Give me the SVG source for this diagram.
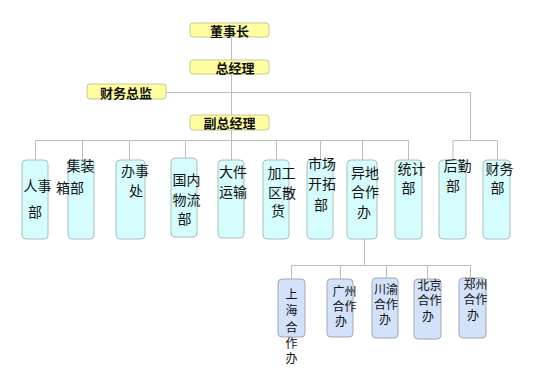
<svg xmlns="http://www.w3.org/2000/svg" width="552" height="378" viewBox="0 0 552 378">
<style>
text{font-family:"Noto Sans CJK SC","Liberation Sans",sans-serif;fill:#111;text-anchor:middle;dominant-baseline:central}
.top rect{fill:#FFFFA2;stroke:#C9C88C;stroke-width:1}
.top text{font-size:13px;font-weight:bold}
.dept rect{fill:#D5FDFD;stroke:#A9BDBD;stroke-width:1}
.dept text{font-size:14px}
.sub rect{fill:#D2E2FA;stroke:#A0A8B4;stroke-width:1}
.sub text{font-size:12px}
#connectors path{fill:none;stroke:#BDBDBD;stroke-width:1}
</style>
<rect x="0" y="0" width="552" height="378" fill="#FFFFFF"/>
<g id="connectors">
<path d="M231.5 37V140"/>
<path d="M166 92.5H470.5V140.5"/>
<path d="M453 140.5H497.5M453 140.5V160M497.5 140.5V160"/>
<path d="M35.5 140.5H408.5"/>
<path d="M35.5 140.5V160M82.5 140.5V160M129.5 140.5V160M185.5 140.5V158M231.5 140.5V160M276.5 140.5V160M320.5 140.5V160M362.5 140.5V160M408.5 140.5V160"/>
<path d="M364.5 239V265.5"/>
<path d="M291.5 265.5H470.5M291.5 265.5V279M340.5 265.5V279M386.5 265.5V278M427.5 265.5V279M470.5 265.5V278"/>
</g>
<g class="top">
<g id="n-dongshizhang"><rect x="190" y="23" width="79" height="14" rx="3"/><text x="229.5" y="30.5">董事长</text></g>
<g id="n-zongjingli"><rect x="190" y="60" width="79" height="14" rx="3"/><text x="235" y="67">总经理</text></g>
<g id="n-caiwuzongjian"><rect x="87" y="84" width="79" height="15" rx="3"/><text x="126" y="92">财务总监</text></g>
<g id="n-fuzongjingli"><rect x="190" y="115" width="79" height="15" rx="3"/><text x="229.5" y="122.5">副总经理</text></g>
</g>
<g class="dept">
<g id="n-renshi"><rect x="22" y="160" width="26" height="79" rx="4"/><text x="37.5" y="185">人事</text><text x="35" y="211">部</text></g>
<g id="n-jizhuangxiang"><rect x="68" y="160" width="26" height="79" rx="4"/><text x="80.5" y="165">集装</text><text x="70" y="187">箱部</text></g>
<g id="n-banshichu"><rect x="116" y="160" width="29" height="79" rx="4"/><text x="135" y="170">办事</text><text x="136" y="190">处</text></g>
<g id="n-guoneiwuliu"><rect x="171" y="158" width="26" height="79" rx="4"/><text x="186.5" y="179">国内</text><text x="186.5" y="199">物流</text><text x="184.5" y="218">部</text></g>
<g id="n-dajianyunshu"><rect x="218" y="160" width="26" height="78" rx="4"/><text x="233" y="171">大件</text><text x="233" y="191">运输</text></g>
<g id="n-jiagong"><rect x="263" y="160" width="26" height="79" rx="4"/><text x="281.5" y="171.5">加工</text><text x="282" y="191.5">区散</text><text x="278" y="210">货</text></g>
<g id="n-shichang"><rect x="307" y="160" width="26" height="79" rx="4"/><text x="322" y="163">市场</text><text x="322" y="183">开拓</text><text x="321" y="204">部</text></g>
<g id="n-yidi"><rect x="347" y="160" width="30" height="79" rx="4"/><text x="365" y="171.5">异地</text><text x="365" y="191">合作</text><text x="364" y="211">办</text></g>
<g id="n-tongji"><rect x="395" y="160" width="27" height="79" rx="4"/><text x="411.5" y="168">统计</text><text x="408.5" y="186.5">部</text></g>
<g id="n-houqin"><rect x="439" y="160" width="27" height="79" rx="4"/><text x="457.5" y="165">后勤</text><text x="453" y="185">部</text></g>
<g id="n-caiwu"><rect x="483" y="160" width="27" height="79" rx="4"/><text x="499.5" y="168">财务</text><text x="497.5" y="187">部</text></g>
</g>
<g class="sub">
<g id="n-shanghai"><rect x="278" y="279" width="27" height="58" rx="4"/><text x="291.5" y="293">上</text><text x="291.5" y="309.5">海</text><text x="291.5" y="326">合</text><text x="291.5" y="342">作</text><text x="291.5" y="357.5">办</text></g>
<g id="n-guangzhou"><rect x="327" y="279" width="26" height="58" rx="4"/><text x="344.5" y="290">广州</text><text x="344.5" y="305">合作</text><text x="341" y="320">办</text></g>
<g id="n-chuanyu"><rect x="372" y="278" width="26" height="60" rx="4"/><text x="386" y="288">川渝</text><text x="386" y="303">合作</text><text x="385" y="318">办</text></g>
<g id="n-beijing"><rect x="414" y="279" width="27" height="60" rx="4"/><text x="429.5" y="284">北京</text><text x="429.5" y="299">合作</text><text x="428" y="315">办</text></g>
<g id="n-zhengzhou"><rect x="459" y="278" width="27" height="60" rx="4"/><text x="475.5" y="283">郑州</text><text x="475.5" y="298">合作</text><text x="473" y="314">办</text></g>
</g>
</svg>
